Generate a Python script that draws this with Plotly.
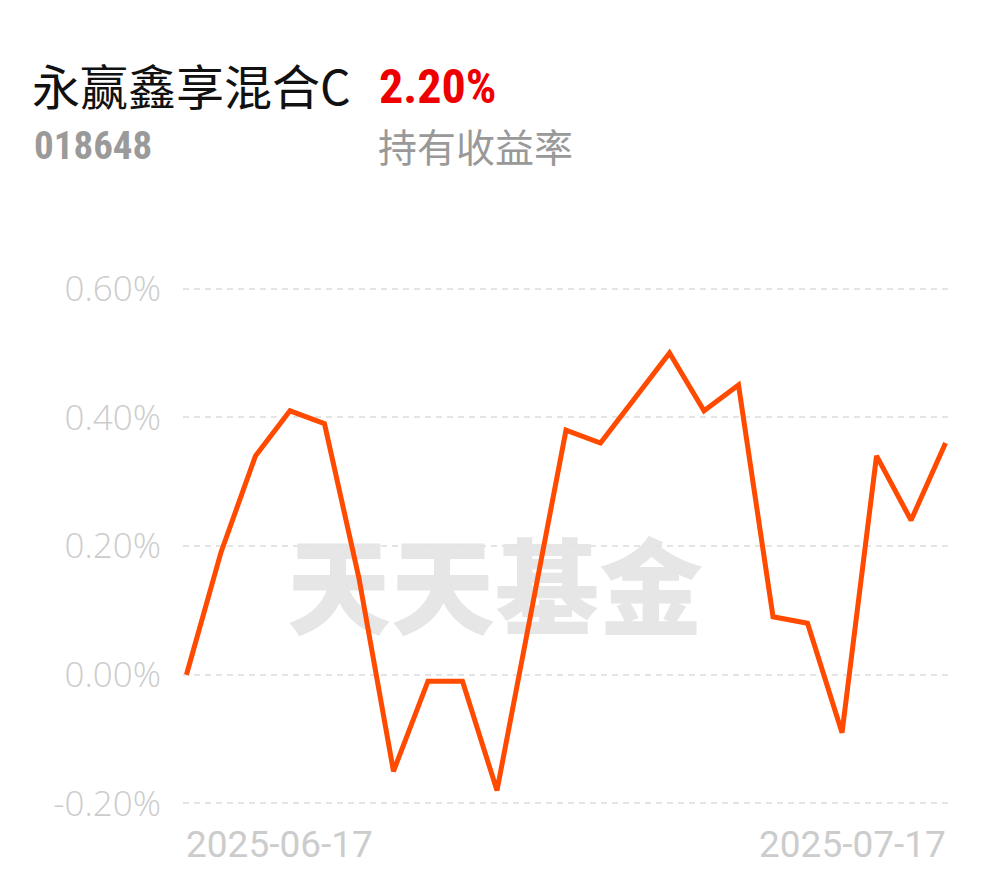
import plotly.graph_objects as go

# ---------------- data ----------------
dates = ["2025-06-17", "2025-06-18", "2025-06-19", "2025-06-20", "2025-06-23",
         "2025-06-24", "2025-06-25", "2025-06-26", "2025-06-27", "2025-06-30",
         "2025-07-01", "2025-07-02", "2025-07-03", "2025-07-04", "2025-07-07",
         "2025-07-08", "2025-07-09", "2025-07-10", "2025-07-11", "2025-07-14",
         "2025-07-15", "2025-07-16", "2025-07-17"]
returns = [0.00, 0.19, 0.34, 0.41, 0.39, 0.15, -0.15, -0.01, -0.01, -0.18,
           0.10, 0.38, 0.36, 0.43, 0.50, 0.41, 0.45, 0.09, 0.08, -0.09,
           0.34, 0.24, 0.36]
y_ticks = [-0.2, 0.0, 0.2, 0.4, 0.6]
y_tick_text = ["-0.20%", "0.00%", "0.20%", "0.40%", "0.60%"]
x_labels = [dates[0], dates[-1]]

fund_name = "永赢鑫享混合C"
fund_code = "018648"
hold_return = "2.20%"
hold_label = "持有收益率"
watermark = "天天基金"

# ---------------- layout geometry (page pixels) ----------------
OFF = 8                      # default body margin of the html page
W, H = 990 - OFF, 878 - OFF  # figure size
EPS = 0.004                  # small padding so edge gridlines are drawn
UNIT = 642.5                 # pixels per 1.00 (%)
XEPS = 0.1                   # small x padding so line ends are not clipped
XUNIT = (946 - 186) / (len(dates) - 1)
PX0 = 186 - XEPS * XUNIT
PX1 = 946 + XEPS * XUNIT
PY0 = 289 - EPS * UNIT
PY1 = 803 + EPS * UNIT


def px(x):
    return (x - PX0) / (PX1 - PX0)


def py(y):
    return (PY1 - y) / (PY1 - PY0)


xs = list(range(len(dates)))

fig = go.Figure()
fig.add_trace(go.Scatter(
    x=xs, y=returns, mode="lines", cliponaxis=False,
    line=dict(color="#ff4a00", width=5),
    hoverinfo="skip", showlegend=False,
))

annotations = [
    dict(text=fund_name, x=px(29), y=py(85), xref="paper", yref="paper",
         xanchor="left", yanchor="middle", showarrow=False,
         font=dict(family="Noto Sans CJK SC", size=48, color="#111111")),
    dict(text=hold_return, x=px(377), y=py(87), xref="paper", yref="paper",
         xanchor="left", yanchor="middle", showarrow=False,
         font=dict(family="Liberation Sans Narrow, Roboto Condensed, Roboto", size=48,
                   color="#ee0000", weight=700)),
    dict(text=fund_code, x=px(31), y=py(147), xref="paper", yref="paper",
         xanchor="left", yanchor="middle", showarrow=False,
         font=dict(family="Liberation Sans Narrow, Roboto Condensed, Roboto", size=39,
                   color="#9a9a9a", weight=700)),
    dict(text=hold_label, x=px(376), y=py(146), xref="paper", yref="paper",
         xanchor="left", yanchor="middle", showarrow=False,
         font=dict(family="Noto Sans CJK SC", size=39, color="#999999")),
    dict(text=x_labels[0], x=xs[0], y=py(844), xref="x", yref="paper",
         xanchor="left", yanchor="middle", showarrow=False, xshift=-2,
         font=dict(family="Roboto", size=37, color="#cccccc")),
    dict(text=x_labels[-1], x=xs[-1], y=py(844), xref="x", yref="paper",
         xanchor="right", yanchor="middle", showarrow=False, xshift=2,
         font=dict(family="Roboto", size=37, color="#cccccc")),
]

shapes = [
    dict(type="rect", xref="paper", yref="paper",
         x0=px(283), x1=px(707), y0=py(648), y1=py(548),
         line=dict(width=0), fillcolor="rgba(0,0,0,0)", layer="below",
         label=dict(text=watermark, textposition="middle center",
                    font=dict(family="Noto Sans CJK SC", size=104, color="#e6e6e6",
                              weight=900))),
]

fig.update_layout(
    width=W, height=H,
    margin=dict(l=PX0 - OFF, r=W - (PX1 - OFF), t=PY0 - OFF, b=H - (PY1 - OFF), pad=0),
    paper_bgcolor="white", plot_bgcolor="white",
    showlegend=False,
    annotations=annotations,
    shapes=shapes,
    xaxis=dict(range=[xs[0] - XEPS, xs[-1] + XEPS], showgrid=False, zeroline=False,
               showticklabels=False, showline=False, fixedrange=True),
    yaxis=dict(range=[y_ticks[0] - EPS, y_ticks[-1] + EPS], tickvals=y_ticks,
               ticktext=y_tick_text,
               showgrid=True, gridcolor="#e4e4e4", gridwidth=2, griddash="6px,5px",
               zeroline=False, showline=False, ticks="", ticklabelstandoff=21,
               tickfont=dict(family="Open Sans", size=35, color="#cccccc", weight=300),
               fixedrange=True),
)

fig.write_html("out.html")
